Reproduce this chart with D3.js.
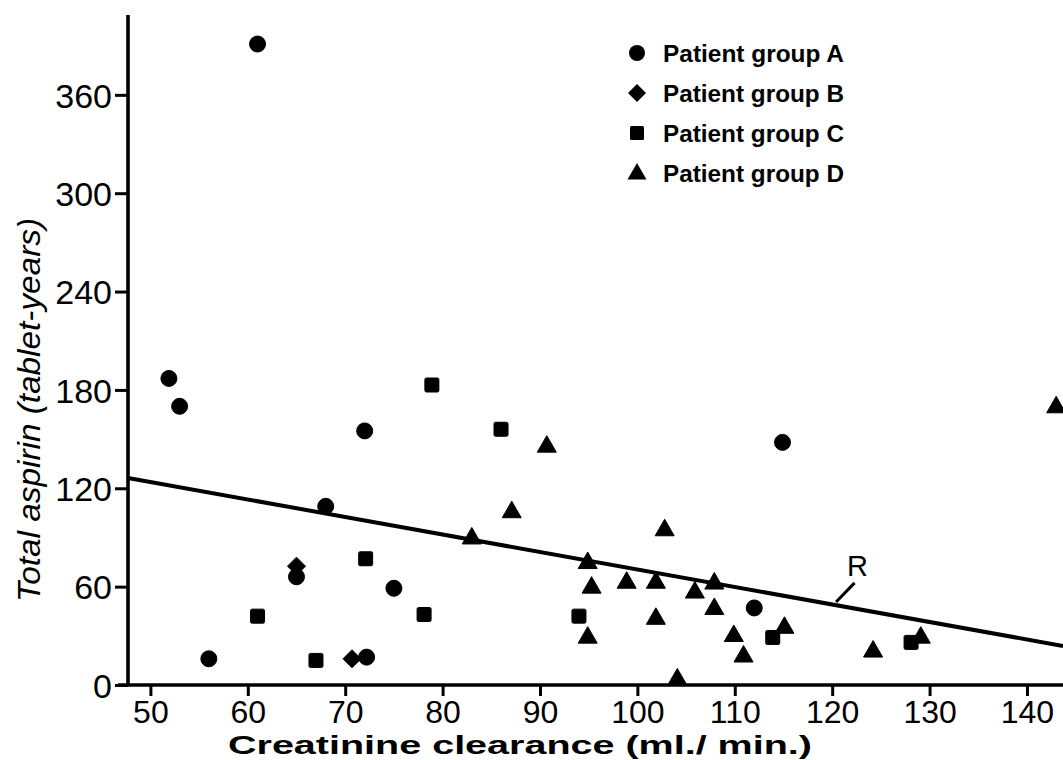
<!DOCTYPE html>
<html>
<head>
<meta charset="utf-8">
<script src="https://cdn.jsdelivr.net/npm/d3@7"></script>
<style>
  html, body { margin: 0; padding: 0; background: #fff; }
  svg { display: block; }
</style>
</head>
<body>
<svg id="chart" width="1063" height="760"></svg>
<script>
// ---- Data ----
const xTicks = [50, 60, 70, 80, 90, 100, 110, 120, 130, 140];
const yTicks = [0, 60, 120, 180, 240, 300, 360];

const groupA = [
  [61.0, 391], [51.9, 187], [53.0, 170], [72.0, 155], [68.0, 109],
  [65.0, 66], [75.0, 59], [56.0, 16], [72.2, 17], [114.9, 148], [112.0, 47]
];
const groupB = [
  [65.0, 72.5], [70.7, 16]
];
const groupC = [
  [78.9, 183], [72.1, 77], [61.0, 42], [78.1, 43], [67.0, 15],
  [86.0, 156], [94.0, 42], [113.9, 29], [128.1, 26]
];
const groupD = [
  [90.7, 146], [87.1, 106], [83.0, 90], [102.8, 95], [94.9, 75],
  [95.3, 60], [98.9, 63], [101.9, 63], [105.9, 57], [107.9, 62.5],
  [107.9, 47], [101.9, 41], [94.9, 29.5], [109.9, 30.5], [110.9, 18],
  [115.1, 35.5], [104.1, 4], [124.2, 21], [129.1, 29.5], [143.0, 170]
];
const legendLabels = ["Patient group A", "Patient group B", "Patient group C", "Patient group D"];
const regressionLine = [[47.7, 126.3], [143.7, 23.8]];
const regressionLabel = "R";

// ---- Layout ----
const svg = d3.select("#chart");
const x = d3.scaleLinear().domain([47.7, 143.7]).range([128, 1063]);
const y = d3.scaleLinear().domain([0, 408.7]).range([685, 15]);

const font = "'Liberation Sans', Arial, sans-serif";

svg.append("defs").append("clipPath").attr("id", "clip")
  .append("rect").attr("x", 0).attr("y", 0).attr("width", 1063).attr("height", 760);

// axes
const xAxis = d3.axisBottom(x).tickValues(xTicks).tickSize(11).tickSizeOuter(0).tickPadding(4)
  .tickFormat(d3.format("d"));
const yAxis = d3.axisLeft(y).tickValues(yTicks).tickSize(13).tickSizeOuter(0).tickPadding(3)
  .tickFormat(d3.format("d"));

const gx = svg.append("g").attr("transform", `translate(0,${y(0)})`).call(xAxis);
const gy = svg.append("g").attr("transform", `translate(${x(47.7)},0)`).call(yAxis);

[gx, gy].forEach(g => {
  g.select(".domain").attr("stroke", "#000").attr("stroke-width", 3.6);
  g.selectAll(".tick line").attr("stroke", "#000").attr("stroke-width", 3);
  g.selectAll(".tick text").attr("fill", "#000")
    .style("font-family", font);
});
gx.selectAll(".tick text").style("font-size", "32px");
gy.selectAll(".tick text").style("font-size", "34px");
gx.select(".domain").attr("d", `M${x(47.7) - 10},0H1063`);
gy.select(".domain").attr("d", `M0,${y(408.7)}V${y(0)}`);
gx.selectAll(".tick text").attr("dy", "0.71em");
gy.selectAll(".tick text").attr("dy", "0.36em");

// axis titles
svg.append("text")
  .attr("x", 520).attr("y", 754)
  .attr("text-anchor", "middle")
  .attr("textLength", 584).attr("lengthAdjust", "spacingAndGlyphs")
  .style("font-family", font).style("font-size", "26px").style("font-weight", "bold")
  .text("Creatinine  clearance  (ml./ min.)");

svg.append("text")
  .attr("transform", "translate(40,410) rotate(-90)")
  .attr("text-anchor", "middle")
  .attr("textLength", 384).attr("lengthAdjust", "spacingAndGlyphs")
  .style("font-family", font).style("font-size", "31px").style("font-style", "italic")
  .text("Total aspirin  (tablet-years)");

// regression line
const plot = svg.append("g").attr("clip-path", "url(#clip)");
plot.append("path")
  .datum(regressionLine)
  .attr("d", d3.line().x(d => x(d[0])).y(d => y(d[1])))
  .attr("stroke", "#000").attr("stroke-width", 4).attr("fill", "none");

// R label with leader
svg.append("line")
  .attr("x1", x(120.4)).attr("y1", y(50.6))
  .attr("x2", x(122.3)).attr("y2", y(62.3))
  .attr("stroke", "#000").attr("stroke-width", 3);
svg.append("text")
  .attr("x", x(122.6)).attr("y", y(66.3))
  .attr("text-anchor", "middle")
  .style("font-family", font).style("font-size", "29px")
  .text(regressionLabel);

// marker shapes
const shapes = {
  circle: () => "M8,0A8,8 0 1,1 -8,0A8,8 0 1,1 8,0Z",
  diamond: () => "M0,-9L9,0L0,9L-9,0Z",
  square: () => "M-5.5,-7H5.5Q7,-7 7,-5.5V5.5Q7,7 5.5,7H-5.5Q-7,7 -7,5.5V-5.5Q-7,-7 -5.5,-7Z",
  triangle: () => "M0,-10L9.5,6.5L-9.5,6.5Z"
};

const groups = [
  { data: groupA, shape: "circle" },
  { data: groupB, shape: "diamond" },
  { data: groupC, shape: "square" },
  { data: groupD, shape: "triangle" }
];

groups.forEach(g => {
  plot.append("g").selectAll("path")
    .data(g.data)
    .join("path")
    .attr("transform", d => `translate(${x(d[0])},${y(d[1])})`)
    .attr("d", shapes[g.shape])
    .attr("fill", "#000")
    .attr("stroke", "#000").attr("stroke-width", 1).attr("stroke-linejoin", "round");
});

// legend
const legendY = [53, 93, 133, 173];
const lg = svg.append("g");
groups.forEach((g, i) => {
  lg.append("path")
    .attr("transform", `translate(637,${legendY[i]})`)
    .attr("d", shapes[g.shape])
    .attr("fill", "#000");
  lg.append("text")
    .attr("x", 663).attr("y", legendY[i] + 9)
    .attr("textLength", 181).attr("lengthAdjust", "spacingAndGlyphs")
    .style("font-family", font).style("font-size", "24.5px").style("font-weight", "bold")
    .text(legendLabels[i]);
});
</script>
</body>
</html>
